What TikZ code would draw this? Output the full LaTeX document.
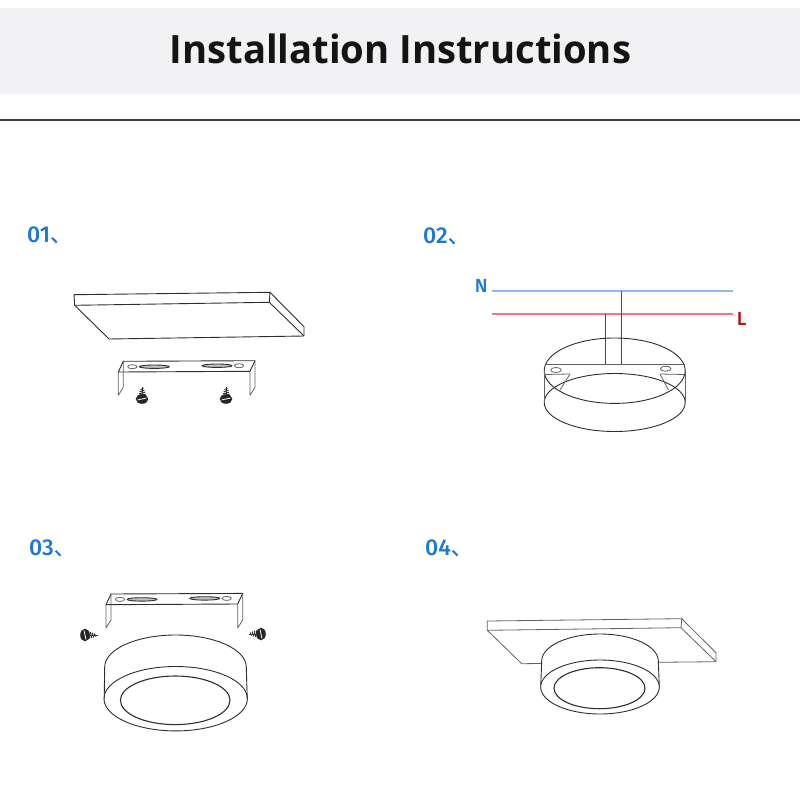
\documentclass[tikz,border=0pt]{standalone}
\usepackage{fontspec}
\usepackage{xcolor}
\usepackage{tikz}
\usetikzlibrary{calc}
\setmainfont{Open Sans}
\newfontfamily\cjkfont{Noto Sans CJK SC}[FakeBold=0.5]
\newfontfamily\stepfont{Fira Sans Medium}
\definecolor{inInk}{HTML}{2E2E2E}
\definecolor{inBand}{HTML}{F2F1F3}
\definecolor{inStep}{HTML}{1C78D2}
\definecolor{inBlueWire}{HTML}{8CBCEC}
\definecolor{inRedWire}{HTML}{E57C80}
\definecolor{inRedText}{HTML}{B81414}
\tikzset{
  % Thin outline of every sketch
  sketch/.style={draw=inInk,line width=0.9pt,line join=round},
  % Lighter outline (mains box, ceiling in step 4)
  sketchl/.style={draw=inInk!75,line width=0.8pt,line join=round},
  % Step numbers
  steplbl/.style={anchor=base west,inner sep=0pt,font=\fontsize{23}{23}\stepfont,text=inStep},
  % Wire letters
  wirelbl/.style={inner sep=0pt,font=\fontsize{19}{19}\stepfont},
  % Mounting bracket
  pics/bracket/.style={code={
    \draw[sketch] (123.3,361.3) -- (255,360.7) -- (250,371.3) -- (118.3,372) -- cycle;
    \draw[sketchl] (118.3,372) -- (118.3,395.3) -- (123.3,387.3) -- (123.3,361.3);
    \draw[sketchl] (250,371.3) -- (250,395.3) -- (255,387.3) -- (255,360.7);
    \draw[sketchl] (132.3,366.7) ellipse [x radius=4.7,y radius=2];
    \draw[sketch,fill=gray!50] (154.3,366.7) ellipse [x radius=15,y radius=1.7];
    \draw[sketch,fill=gray!50] (217,365.7) ellipse [x radius=15,y radius=1.7];
    \draw[sketchl] (239,365.7) ellipse [x radius=4.7,y radius=2];
  }},
  % Screw with its head at the origin
  pics/screw/.style={code={
    \foreach \y/\w in {-3/3.6,-5/3.1,-7/2.4,-9/1.5}
      \draw[black!80,line width=1pt] (-\w,\y+0.8) -- (\w,\y-0.8);
    \draw[black!80,line width=0.7pt] (0,-2) -- (0,-11.5);
    \fill[black!85] (0,1) ellipse [x radius=6.3,y radius=4.8];
    \draw[white,line width=0.8pt] (-4.5,2) -- (4.5,0);
  }},
}
\begin{document}
\begin{tikzpicture}[x=1pt,y=-1pt]
  \useasboundingbox (0,0) rectangle (800,800);

  % Title band
  \fill[inBand] (0,8) rectangle (800,94);
  \node[inner sep=0pt,xscale=0.98,font=\fontsize{39}{39}\selectfont\bfseries,text=black!92] (title) at (400.5,49) {Installation Instructions};
  \coordinate (ruleL) at (0,120);
  \coordinate (ruleR) at (800,120);
  \draw[black!75,line width=1.1pt] (ruleL) -- (ruleR);

  % Step numbers
  \node[steplbl] (stepA) at (27,242) {01\cjkfont\fontsize{21}{21}\selectfont 、};
  \node[steplbl] (stepB) at (423,243) {02\cjkfont\fontsize{21}{21}\selectfont 、};
  \node[steplbl] (stepC) at (29,555) {03\cjkfont\fontsize{21}{21}\selectfont 、};
  \node[steplbl] (stepD) at (425,555) {04\cjkfont\fontsize{21}{21}\selectfont 、};

  % Step 1: ceiling board
  \draw[sketch] (74,294.7) -- (270,292.3) -- (304,326.7) -- (304,336) -- (109,339) -- (74.7,305.3) -- cycle;
  \draw[sketch] (74.7,305.3) -- (269.3,302.3) -- (304,336);
  \draw[sketch] (270,292.3) -- (269.3,302.3);

  % Step 1: bracket and screws
  \pic {bracket};
  \foreach \x in {142,226}
    \pic at (\x,398) {screw};

  % Step 2: mains wires
  \coordinate (nL) at (491.7,291);
  \coordinate (nR) at (732.7,291);
  \coordinate (lL) at (491.7,313.7);
  \coordinate (lR) at (732.7,313.7);
  \coordinate (nTap) at (621.7,291);
  \coordinate (lTap) at (605,313.7);
  \coordinate (nEnd) at (621.7,364);
  \coordinate (lEnd) at (605,364);
  \draw[inBlueWire,line width=1.8pt] (nL) -- (nR);
  \draw[inRedWire,line width=1.8pt] (lL) -- (lR);
  \draw[inInk!85,line width=1pt] (nTap) -- (nEnd);
  \draw[inInk!85,line width=1pt] (lTap) -- (lEnd);
  \node[wirelbl,text=inStep] (wireN) at (481.3,286) {N};
  \node[wirelbl,text=inRedText] (wireL) at (741.7,319.3) {L};

  % Step 2: open fixture
  \draw[sketch] (614.7,370.7) ellipse [x radius=70.5,y radius=32.7];
  \draw[sketch] (544.2,402.5) arc [start angle=180,end angle=360,x radius=70.5,y radius=29];
  \draw[sketch] (544.2,402.5) arc [start angle=180,end angle=0,x radius=70.5,y radius=29];
  \draw[sketchl] (544.2,370.7) -- (544.2,402.5);
  \draw[sketchl] (685.2,370.7) -- (685.2,402.5);
  \draw[sketchl] (544.5,364) -- (684.9,364);
  \draw[sketchl] (544.5,374.5) -- (570,374);
  \draw[sketchl] (660,374) -- (684.9,374.5);
  \draw[sketchl] (570,374) -- (560,390);
  \draw[sketchl] (660,374) -- (668.5,390);
  \draw[sketchl] (556,370) ellipse [x radius=5.3,y radius=2.5];
  \draw[sketchl] (665.7,368.7) ellipse [x radius=5.3,y radius=2.5];

  % Step 3: bracket, screws, fixture
  \pic[shift={(-12.3,232.7)}] {bracket};
  \pic[rotate=-90] at (86,635) {screw};
  \pic[rotate=90] at (260,634) {screw};
  \draw[sketch] (104.7,667) arc [start angle=180,end angle=360,x radius=70.8,y radius=32];
  \draw[sketch] (104.7,667) -- (104.2,698.7);
  \draw[sketch] (246.3,667) -- (247.2,698.7);
  \draw[sketch] (175.7,698.7) ellipse [x radius=71.7,y radius=32.2];
  \draw[sketch,line width=1.1pt] (175.2,700.3) ellipse [x radius=54.8,y radius=24.3];

  % Step 4: ceiling board with fixture
  \draw[sketchl] (487.3,621) -- (681.7,618.7) -- (716,652.7) -- (716,661.7) -- (521.7,663.7) -- (487.3,630.3) -- cycle;
  \draw[sketchl] (487.3,630.3) -- (681,627.7) -- (716,661.7);
  \draw[sketchl] (681.7,618.7) -- (681,627.7);
  \fill[white,sketch] (541.7,661) arc [start angle=180,end angle=360,x radius=58.3,y radius=27] -- (659.3,687) -- (540.7,687) -- cycle;
  \draw[sketch,fill=white] (600,687) ellipse [x radius=59.3,y radius=27];
  \draw[sketch,line width=1.1pt] (599.5,688.2) ellipse [x radius=45.5,y radius=20.5];
\end{tikzpicture}
\end{document}
